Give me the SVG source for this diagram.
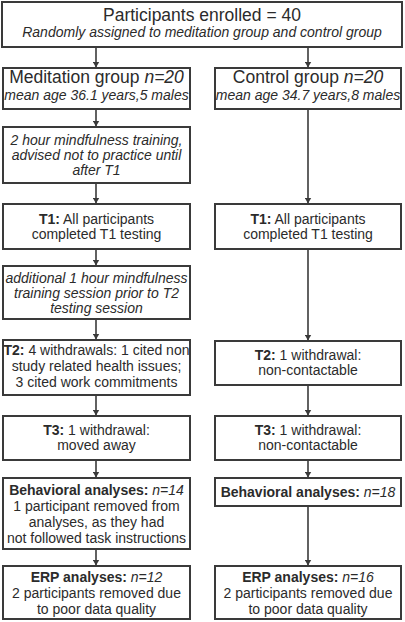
<svg xmlns="http://www.w3.org/2000/svg" width="405" height="622" viewBox="0 0 405 622">
<style>
.box{fill:#fff;stroke:#3a3a3a;stroke-width:2}
text{font-family:"Liberation Sans",Arial,sans-serif;font-size:14px;fill:#2b2b2b;text-anchor:middle}
.big{font-size:17.5px}
.i{font-style:italic}
.b{font-weight:bold}
.conn line{stroke:#3a3a3a;stroke-width:1.6}
</style>
<defs>
<marker id="ah" markerWidth="6" markerHeight="7" refX="5.5" refY="3.5" orient="auto" markerUnits="userSpaceOnUse">
<path d="M0,0 L6,3.5 L0,7 Z" fill="#3a3a3a"/>
</marker>
</defs>
<rect width="405" height="622" fill="#fff"/>
<g class="conn">
<line x1="96" y1="48" x2="96" y2="67" marker-end="url(#ah)"/>
<line x1="308" y1="48" x2="308" y2="67" marker-end="url(#ah)"/>
<line x1="96" y1="110" x2="96" y2="126" marker-end="url(#ah)"/>
<line x1="96" y1="184" x2="96" y2="203" marker-end="url(#ah)"/>
<line x1="96" y1="250" x2="96" y2="265" marker-end="url(#ah)"/>
<line x1="96" y1="320" x2="96" y2="339" marker-end="url(#ah)"/>
<line x1="96" y1="396" x2="96" y2="415" marker-end="url(#ah)"/>
<line x1="96" y1="461" x2="96" y2="477" marker-end="url(#ah)"/>
<line x1="96" y1="550" x2="96" y2="565" marker-end="url(#ah)"/>
<line x1="308" y1="110" x2="308" y2="203" marker-end="url(#ah)"/>
<line x1="308" y1="250" x2="308" y2="340" marker-end="url(#ah)"/>
<line x1="308" y1="386" x2="308" y2="415" marker-end="url(#ah)"/>
<line x1="308" y1="461" x2="308" y2="477" marker-end="url(#ah)"/>
<line x1="308" y1="507" x2="308" y2="565" marker-end="url(#ah)"/>
</g>
<g id="enrolled">
<rect class="box" x="2" y="2" width="400" height="45"/>
<text class="big" x="202" y="21">Participants enrolled = 40</text>
<text class="i" x="202" y="37">Randomly assigned to meditation group and control group</text>
</g>
<g id="meditation">
<rect class="box" x="3" y="68" width="187" height="41"/>
<text class="big" x="96.5" y="83">Meditation group <tspan class="i">n=20</tspan></text>
<text class="i" x="96.5" y="100">mean age 36.1 years,5 males</text>
</g>
<g id="control">
<rect class="box" x="215" y="68" width="186" height="41"/>
<text class="big" x="308" y="83">Control group <tspan class="i">n=20</tspan></text>
<text class="i" x="308" y="100">mean age 34.7 years,8 males</text>
</g>
<g id="training">
<rect class="box" x="3" y="127" width="187" height="56"/>
<text class="i" x="96.5" y="145">2 hour mindfulness training,</text>
<text class="i" x="96.5" y="160">advised not to practice until</text>
<text class="i" x="96.5" y="175">after T1</text>
</g>
<g id="t1-med">
<rect class="box" x="3" y="204" width="187" height="45"/>
<text x="96.5" y="223.5"><tspan class="b">T1:</tspan> All participants</text>
<text x="96.5" y="238.5">completed T1 testing</text>
</g>
<g id="t1-ctrl">
<rect class="box" x="215" y="204" width="186" height="45"/>
<text x="308" y="223.5"><tspan class="b">T1:</tspan> All participants</text>
<text x="308" y="238.5">completed T1 testing</text>
</g>
<g id="additional">
<rect class="box" x="3" y="266" width="187" height="53"/>
<text class="i" x="96.5" y="283">additional 1 hour mindfulness</text>
<text class="i" x="96.5" y="298">training session prior to T2</text>
<text class="i" x="96.5" y="313">testing session</text>
</g>
<g id="t2-med">
<rect class="box" x="3" y="340" width="187" height="55"/>
<text x="96.5" y="355"><tspan class="b">T2:</tspan> 4 withdrawals: 1 cited non</text>
<text x="96.5" y="371">study related health issues;</text>
<text x="96.5" y="387">3 cited work commitments</text>
</g>
<g id="t2-ctrl">
<rect class="box" x="215" y="341" width="186" height="44"/>
<text x="308" y="360"><tspan class="b">T2:</tspan> 1 withdrawal:</text>
<text x="308" y="375">non-contactable</text>
</g>
<g id="t3-med">
<rect class="box" x="3" y="416" width="187" height="44"/>
<text x="96.5" y="434.5"><tspan class="b">T3:</tspan> 1 withdrawal:</text>
<text x="96.5" y="450">moved away</text>
</g>
<g id="t3-ctrl">
<rect class="box" x="215" y="416" width="186" height="44"/>
<text x="308" y="434.5"><tspan class="b">T3:</tspan> 1 withdrawal:</text>
<text x="308" y="450">non-contactable</text>
</g>
<g id="behav-med">
<rect class="box" x="3" y="478" width="187" height="71"/>
<text x="96.5" y="495"><tspan class="b">Behavioral analyses:</tspan> <tspan class="i">n=14</tspan></text>
<text x="96.5" y="511">1 participant removed from</text>
<text x="96.5" y="527">analyses, as they had</text>
<text x="96.5" y="543">not followed task instructions</text>
</g>
<g id="behav-ctrl">
<rect class="box" x="215" y="478" width="186" height="28"/>
<text x="308" y="497"><tspan class="b">Behavioral analyses:</tspan> <tspan class="i">n=18</tspan></text>
</g>
<g id="erp-med">
<rect class="box" x="3" y="566" width="187" height="53"/>
<text x="96.5" y="582"><tspan class="b">ERP analyses:</tspan> <tspan class="i">n=12</tspan></text>
<text x="96.5" y="598">2 participants removed due</text>
<text x="96.5" y="614">to poor data quality</text>
</g>
<g id="erp-ctrl">
<rect class="box" x="215" y="566" width="186" height="53"/>
<text x="308" y="582"><tspan class="b">ERP analyses:</tspan> <tspan class="i">n=16</tspan></text>
<text x="308" y="598">2 participants removed due</text>
<text x="308" y="614">to poor data quality</text>
</g>
</svg>
